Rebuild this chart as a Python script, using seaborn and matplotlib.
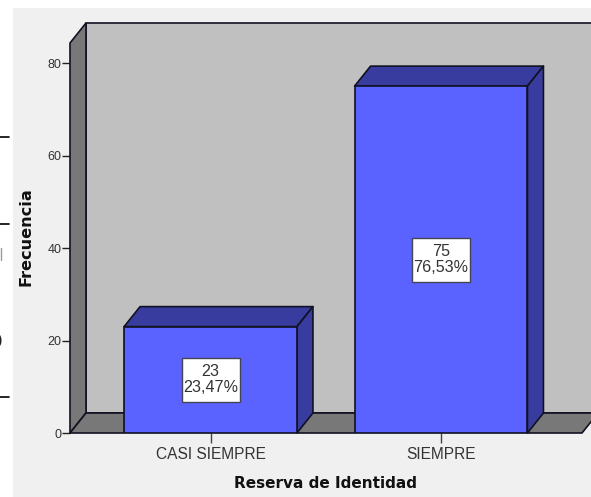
import numpy as np
import pandas as pd
import matplotlib
matplotlib.use('Agg')
import matplotlib.pyplot as plt
from matplotlib.patches import Polygon, Rectangle
from matplotlib.lines import Line2D
from matplotlib.transforms import Affine2D
import seaborn as sns

categories = ['CASI SIEMPRE', 'SIEMPRE']
counts = [23, 75]
percents = ['23,47%', '76,53%']
y_ticks = [0, 20, 40, 60, 80]

BG = '#f0f0f0'
WALL = '#c0c0c0'
SIDE = '#787878'
BAR = '#5a62ff'
BAR_DARK = '#383c9e'
EDGE = '#111122'
TXT = '#333333'

W, H = 591, 497
sns.set_theme(style='white')
plt.rcParams['font.family'] = ['Liberation Sans', 'DejaVu Sans']

fig = plt.figure(figsize=(W / 100, H / 100), dpi=100, facecolor='white')

# grey panel behind everything, the left strip stays white
panel = fig.add_axes([13 / W, 0, 1 - 13 / W, 1 - 8 / H], zorder=0)
panel.set_facecolor(BG)
panel.set_xticks([])
panel.set_yticks([])
for s in panel.spines.values():
    s.set_visible(False)

# front plane of the 3d box
ax = fig.add_axes([70 / W, 1 - 433 / H, (582 - 70) / W, (433 - 43) / H], zorder=1)
ax.patch.set_alpha(0)

df = pd.DataFrame({'cat': categories, 'n': counts})
sns.barplot(data=df, x='cat', y='n', color=BAR, saturation=1, width=0.75,
            edgecolor=EDGE, linewidth=1.2, ax=ax, zorder=5)

px_x = 230.5
px_y = 4.625
ax.set_xlim(-140.5 / px_x, (582 - 210.5) / px_x)
ax.set_ylim(0, 390 / px_y)
x0, x1 = ax.get_xlim()
y0, y1 = ax.get_ylim()
dx = 16 / px_x
dy = 20 / px_y


def face(pts, color, z):
    ax.add_patch(Polygon(pts, closed=True, facecolor=color, edgecolor=EDGE,
                         linewidth=1.2, clip_on=False, zorder=z, joinstyle='round'))


# walls and floor
face([(x0 + dx, y0 + dy), (x1 + dx, y0 + dy), (x1 + dx, y1 + dy), (x0 + dx, y1 + dy)], WALL, 1)
face([(x0, y0), (x0 + dx, y0 + dy), (x0 + dx, y1 + dy), (x0, y1)], SIDE, 2)
face([(x0, y0), (x1, y0), (x1 + dx, y0 + dy), (x0 + dx, y0 + dy)], SIDE, 2)

# bar top and side come from the bars seaborn drew
for p in ax.patches[:len(counts)]:
    l, r, h = p.get_x(), p.get_x() + p.get_width(), p.get_height()
    face([(l, h), (r, h), (r + dx, h + dy), (l + dx, h + dy)], BAR_DARK, 4)
    face([(r, 0), (r + dx, dy), (r + dx, h + dy), (r, h)], BAR_DARK, 4)

# count and percent labels, box is a fixed 58x44 px around the bar middle
for i, (n, pct) in enumerate(zip(counts, percents)):
    centre = ax.transData.transform((i, n / 2))
    ax.add_patch(Rectangle((-29, -22), 58, 44, transform=Affine2D().translate(*centre),
                           facecolor='white', edgecolor='#444455', linewidth=1,
                           clip_on=False, zorder=7))
    ax.text(i, n / 2, f'{n}\n{pct}', ha='center', va='center', fontsize=11.6,
            color=TXT, linespacing=1.1, zorder=8)

ax.set_yticks(y_ticks)
ax.set_xticks(range(len(categories)))
ax.set_xticklabels(categories)
ax.tick_params(axis='y', length=5.8, width=1, color='#222222', labelsize=9, labelcolor=TXT, pad=0.5, left=True)
ax.tick_params(axis='x', length=7, width=1, color='#444444', labelsize=11.2, labelcolor=TXT, pad=3, bottom=True)
for s in ax.spines.values():
    s.set_visible(False)

ax.set_xlabel('')
ax.set_ylabel('')
fig.text(325.5 / W, 1 - 484 / H, 'Reserva de Identidad', ha='center', va='center',
         family='DejaVu Sans', fontweight='bold', fontsize=11, color='#111111')
fig.text(26 / W, 1 - 237 / H, 'Frecuencia', ha='center', va='center', rotation=90,
         family='DejaVu Sans', fontweight='bold', fontsize=11.6, color='#111111')

# bits of the page around the pasted chart
for yp in [137, 224, 397]:
    fig.add_artist(Line2D([0, 9 / W], [1 - yp / H] * 2, color='black', linewidth=1.2))
fig.add_artist(Line2D([0.5 / W] * 2, [1 - 248 / H, 1 - 260 / H], color='#999999', linewidth=1))
fig.text(-3 / W, 1 - 340 / H, ')', ha='left', va='center', fontsize=12, color='#222222')

fig.savefig('out.png', dpi=100)
